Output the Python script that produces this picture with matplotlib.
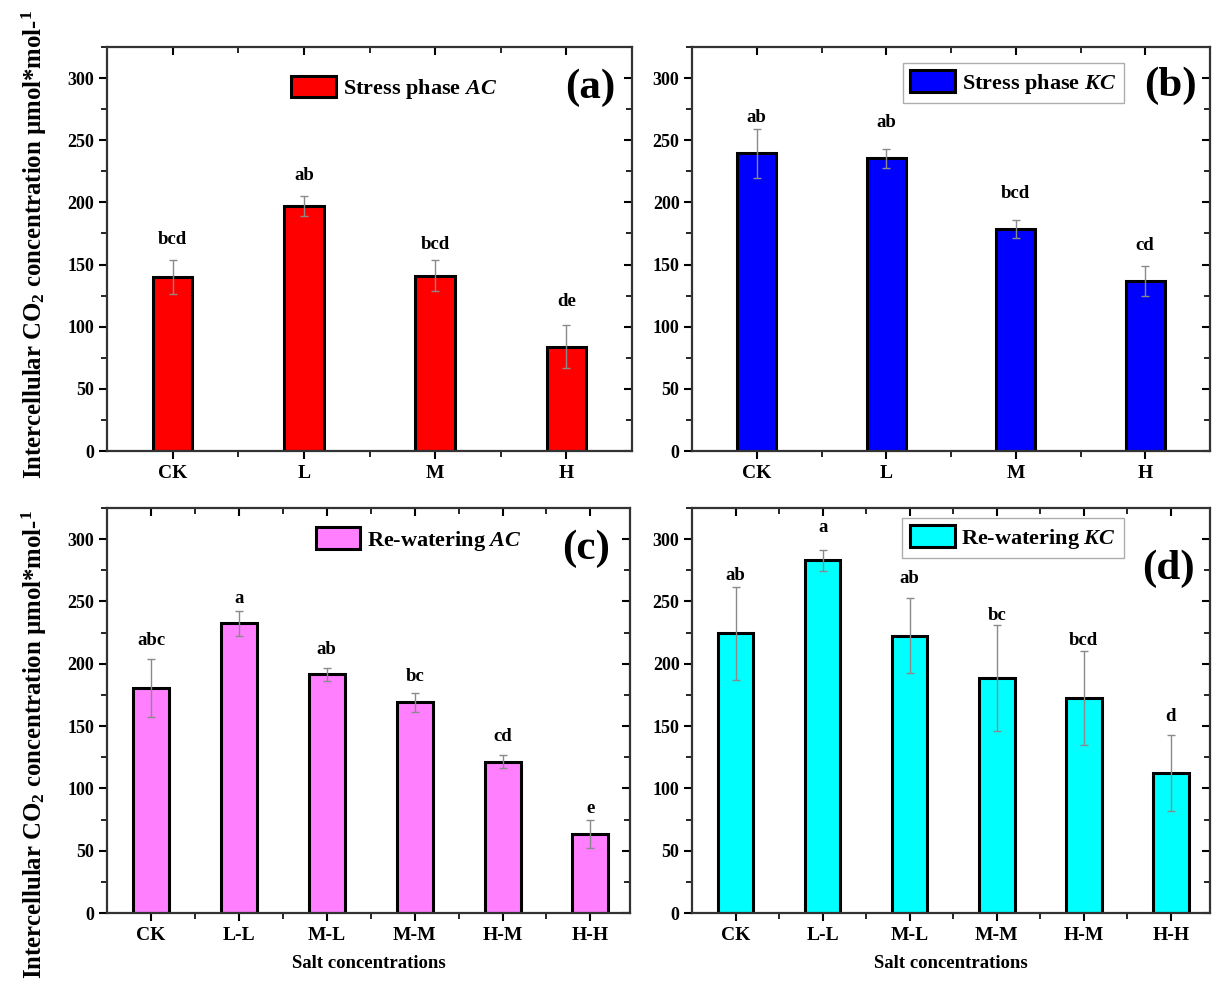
import matplotlib
matplotlib.use("Agg")
import matplotlib.pyplot as plt
from matplotlib.ticker import MultipleLocator, FixedLocator
import numpy as np

plt.rcParams['font.family'] = ['Liberation Serif', 'DejaVu Serif']
plt.rcParams['font.weight'] = 'bold'
plt.rcParams['mathtext.fontset'] = 'custom'
plt.rcParams['mathtext.rm'] = 'Liberation Serif:bold'
plt.rcParams['mathtext.bf'] = 'Liberation Serif:bold'
plt.rcParams['mathtext.it'] = 'Liberation Serif:italic:bold'

# ---- data ----
cats_stress = ["CK", "L", "M", "H"]
cats_rewater = ["CK", "L-L", "M-L", "M-M", "H-M", "H-H"]

a_vals = [140, 197, 141, 84]
a_err = [14, 8, 12.5, 17.5]
a_letters = ["bcd", "ab", "bcd", "de"]
a_letter_y = [170, 221.5, 166, 120]

b_vals = [239.5, 235.5, 178.5, 136.5]
b_err = [19.5, 7.5, 7, 12]
b_letters = ["ab", "ab", "bcd", "cd"]
b_letter_y = [268.5, 264.5, 207, 165]

c_vals = [180.5, 232.5, 191.5, 169, 121.5, 63.5]
c_err = [23.5, 10, 5.5, 7.5, 5.5, 11.5]
c_letters = ["abc", "a", "ab", "bc", "cd", "e"]
c_letter_y = [219, 252.5, 211.5, 189.5, 142, 84]

d_vals = [224.5, 283, 222.5, 188.5, 172.5, 112]
d_err = [37.5, 8.5, 30, 42.5, 37.5, 30.5]
d_letters = ["ab", "a", "ab", "bc", "bcd", "d"]
d_letter_y = [270.5, 309.5, 268.5, 239, 218.5, 157.5]

legend_labels = ["Stress phase $\\mathit{AC}$", "Stress phase $\\mathit{KC}$",
                 "Re-watering $\\mathit{AC}$", "Re-watering $\\mathit{KC}$"]
panel_tags = ["(a)", "(b)", "(c)", "(d)"]
colors = ["#FF0000", "#0000FF", "#FF7FFF", "#00FFFF"]

fig = plt.figure(figsize=(12.13, 9.85), dpi=100)
W, H = 1213, 985

def ax_at(l, r, t, b):
    return fig.add_axes([l / W, 1 - b / H, (r - l) / W, (b - t) / H])

axes = [ax_at(107, 632, 47, 451), ax_at(692, 1210, 47, 451),
        ax_at(107, 630, 508, 913), ax_at(692, 1210, 508, 913)]

panels = [
    (cats_stress, a_vals, a_err, a_letters, a_letter_y, 0.30),
    (cats_stress, b_vals, b_err, b_letters, b_letter_y, 0.30),
    (cats_rewater, c_vals, c_err, c_letters, c_letter_y, 0.41),
    (cats_rewater, d_vals, d_err, d_letters, d_letter_y, 0.41),
]
leg_pos = [(0.547, 0.898), (0.62, 0.911), (0.596, 0.921), (0.62, 0.926)]
leg_frame = [False, True, False, True]
tag_pos = [(0.92, 0.898), (0.923, 0.905), (0.916, 0.90), (0.919, 0.85)]

for i, (ax, (cats, vals, err, letters, ly, bw)) in enumerate(zip(axes, panels)):
    x = np.arange(len(cats))
    ax.bar(x, vals, width=bw, color=colors[i], edgecolor='black',
           linewidth=2.2, label=legend_labels[i], zorder=2)
    ax.errorbar(x, vals, yerr=err, fmt='none', ecolor='#8a8a8a',
                elinewidth=1.0, capsize=3, capthick=1.0, zorder=3)
    for xi, t, yy in zip(x, letters, ly):
        ax.text(xi, yy, t, ha='center', va='center', fontsize=13.5,
                fontweight='bold', zorder=4)
    n = len(cats)
    if n == 4:
        ax.set_xlim(-0.5, n - 0.5)
    else:
        ax.set_xlim(-0.5, n - 0.55)
    ax.set_ylim(0, 325)
    ax.set_xticks(x)
    ax.set_xticklabels(cats, fontsize=14, fontweight='bold')
    ax.xaxis.set_minor_locator(FixedLocator(x[:-1] + 0.5))
    ax.yaxis.set_major_locator(MultipleLocator(50))
    ax.yaxis.set_minor_locator(MultipleLocator(25))
    ax.tick_params(axis='y', which='both', left=True, right=True,
                   labelsize=13, pad=3)
    ax.tick_params(axis='x', which='both', top=True, bottom=True, pad=4)
    ax.tick_params(axis='both', which='major', length=6, width=1.5)
    ax.tick_params(axis='both', which='minor', length=4, width=1.2)
    ax.tick_params(axis='x', which='both', direction='out')
    ax.tick_params(axis='y', which='both', direction='out')
    # top and right ticks point inward
    for t in ax.xaxis.get_major_ticks() + ax.xaxis.get_minor_ticks():
        t.tick2line.set_marker(matplotlib.lines.TICKDOWN)
    for t in ax.yaxis.get_major_ticks() + ax.yaxis.get_minor_ticks():
        t.tick2line.set_marker(matplotlib.lines.TICKLEFT)
    for lbl in ax.get_yticklabels():
        lbl.set_fontweight('bold')
    for s in ax.spines.values():
        s.set_linewidth(1.6)
        s.set_color('#333333')
    leg = ax.legend(loc='center', bbox_to_anchor=leg_pos[i], frameon=leg_frame[i],
                    fancybox=False, handlelength=2.0,
                    handleheight=1.1, handletextpad=0.3, borderpad=0.35,
                    edgecolor='#999999',
                    prop={'family': 'Liberation Serif', 'weight': 'bold', 'size': 16})
    if leg_frame[i]:
        leg.get_frame().set_linewidth(1.0)
    ax.text(tag_pos[i][0], tag_pos[i][1], panel_tags[i], transform=ax.transAxes,
            ha='center', va='center', fontsize=31, fontweight='bold')

ylab = "Intercellular CO$_2$ concentration \u00b5mol*mol-$^{1}$"
axes[0].set_ylabel(ylab, fontsize=17.8, fontweight='bold')
axes[0].yaxis.set_label_coords(-0.111, 0.51)
axes[2].set_ylabel(ylab, fontsize=17.8, fontweight='bold')
axes[2].yaxis.set_label_coords(-0.111, 0.415)
for ax in (axes[2], axes[3]):
    ax.set_xlabel("Salt concentrations", fontsize=13.5, fontweight='bold', labelpad=8)

fig.savefig("out.png", dpi=100)
